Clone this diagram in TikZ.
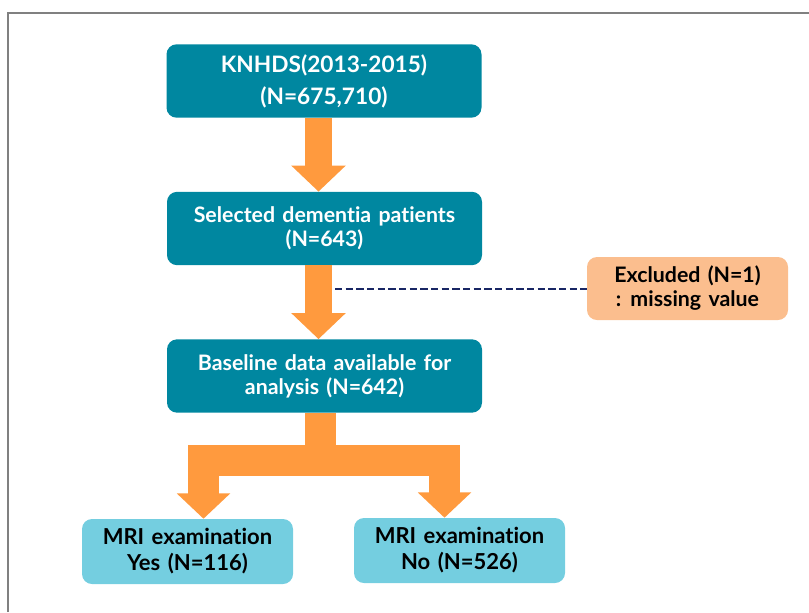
\documentclass[tikz,border=0pt]{standalone}
\usepackage{fontspec}
\setmainfont{Lato}[Ligatures=NoCommon, WordSpace=1.4]
\usetikzlibrary{arrows.meta}
\definecolor{teal1}{RGB}{0,135,160}
\definecolor{orange1}{RGB}{255,154,62}
\definecolor{peach}{RGB}{251,190,142}
\definecolor{sky}{RGB}{116,206,224}
\definecolor{navy1}{RGB}{25,38,100}
\definecolor{frame1}{RGB}{128,128,128}
\tikzset{
  mainbox/.style={draw=none, fill=teal1, rounded corners=7.5pt, text=white, align=center,
    font=\bfseries\fontsize{16}{18}\selectfont, minimum width=236.25pt, minimum height=55pt, inner sep=0pt},
  sidebox/.style={draw=none, fill=peach, rounded corners=7.5pt, text=black, align=center,
    font=\bfseries\fontsize{16}{18}\selectfont, minimum width=150.75pt, minimum height=47.25pt, inner sep=0pt},
  leafbox/.style={draw=none, fill=sky, rounded corners=7.5pt, text=black, align=center,
    font=\bfseries\fontsize{16.5}{19.5}\selectfont, minimum width=158.25pt, minimum height=48.75pt, inner sep=0pt},
  fatarrow/.style={draw=orange1, line width=20.25pt, line join=miter,
    -{Triangle[width=39.75pt, length=19.5pt]}},
  fatbranch/.style={draw=orange1, line width=23pt, line join=miter,
    -{Triangle[width=39pt, length=19pt]}},
  dashline/.style={draw=navy1, line width=1.5pt, dash pattern=on 5.5pt off 2.5pt},
  frameline/.style={draw=frame1, line width=1.5pt}
}
\begin{document}
\begin{tikzpicture}[x=0.75pt,y=-0.75pt]
\useasboundingbox (0,0) rectangle (809,612);
\draw[frameline] (8,612) -- (8,13) -- (809,13);

\node[mainbox, font=\bfseries\fontsize{17}{24}\selectfont] (b1) at (324,81) {KNHDS(2013-2015)\\(N=675,710)};
\node[mainbox] (b2) at (324.5,228.5) {Selected dementia patients\\(N=643)};
\node[mainbox] (b3) at (324.5,376) {Baseline data available for\\analysis (N=642)};
\node[sidebox] (ex) at (687.5,288.5) {Excluded (N=1)\\: missing value};
\node[leafbox] (yes) at (187.5,551.5) {MRI examination\\Yes (N=116)};
\node[leafbox] (no) at (459.5,550.5) {MRI examination\\No (N=526)};

\coordinate (c1) at (318.5,0);
\draw[fatarrow] (b1.south -| c1) -- (b2.north -| c1);
\coordinate (dstart) at (335,288.5);
\draw[dashline] (dstart) -- (ex.west);
\draw[fatarrow] (b2.south -| c1) -- (b3.north -| c1);

\coordinate (j) at (320.5,460.5);
\coordinate (ly) at (203.5,460.5);
\coordinate (ry) at (444.5,460.5);
\draw[fatbranch] (b3.south -| j) |- (ly) -- (ly |- yes.north);
\draw[fatbranch] (b3.south -| j) |- (ry) -- (ry |- no.north);
\end{tikzpicture}
\end{document}
